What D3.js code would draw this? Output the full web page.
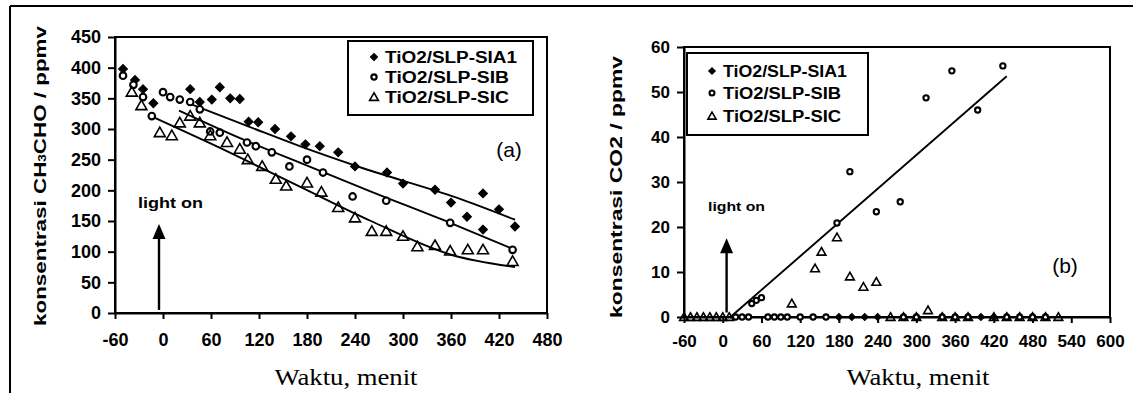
<!DOCTYPE html>
<html>
<head>
<meta charset="utf-8">
<script src="https://cdn.jsdelivr.net/npm/d3@7"></script>
<style>
  html, body { margin: 0; padding: 0; background: #fff; }
  svg { display: block; }
  .tick text { font-family: "Liberation Sans", Arial, sans-serif; font-weight: bold; fill: #000; }
</style>
</head>
<body>
<svg id="chart" width="1133" height="393"></svg>
<script>
// ---------------- DATA ----------------
const seriesNames = ["TiO2/SLP-SIA1", "TiO2/SLP-SIB", "TiO2/SLP-SIC"];

// Panel (a): CH3CHO concentration (ppmv) vs time (min)
const aSIA1 = [[-50,398],[-35,380],[-25,365],[-12,342],[34,365],[46,344],[61,348],[71,368],[84,350],[96,349],
  [107,312],[119,311],[140,300],[160,288],[178,275],[196,272],[219,262],[240,239],[280,229],[300,211],
  [340,201],[360,180],[380,157],[400,195],[400,136],[420,169],[440,141]];
const aSIB = [[-50,387],[-37,372],[-25,352],[-14,321],[0,360],[9,352],[21,348],[34,344],[46,332],[59,296],
  [71,294],[105,278],[116,272],[136,262],[158,239],[180,250],[200,229],[237,190],[279,183],[359,147],[437,103]];
const aSIC = [[-39,360],[-27,338],[-4,294],[11,289],[21,310],[34,321],[46,310],[59,289],[80,278],[96,267],
  [106,250],[124,239],[141,218],[154,207],[180,212],[198,197],[219,172],[240,155],[261,133],[279,133],
  [300,125],[318,108],[340,110],[359,101],[381,103],[400,103],[437,84]];
const aFitSIA1 = [[30,343],[109,303],[171,272],[250,236],[367,188],[440,152]];
const aFitSIB  = [[20,330],[100,283],[171,245],[260,198],[359,147],[440,103]];
const aFitSIC  = [[-10,318],[60,276],[171,206],[260,150],[360,95],[440,75]];

// Panel (b): CO2 concentration (ppmv) vs time (min)
const bSIA1 = [[180,0],[200,0],[220,0],[240,0],[400,0],[420,0]];
const bSIB = [[20,0],[30,0],[40,0],[45,3],[52,3.7],[60,4.3],[70,0],[80,0],[90,0],[100,0],[120,0],[140,0],[160,0],
  [177,20.9],[197,32.3],[238,23.4],[275,25.6],[280,0],[300,0],[315,48.7],[340,0],[355,54.7],[360,0],[380,0],
  [395,46],[434,55.8],[440,0],[460,0],[480,0],[500,0]];
const bSIC = [[-60,0],[-50,0],[-40,0],[-30,0],[-20,0],[-10,0],[0,0],[10,0],[107,3],[143,10.8],[153,14.5],
  [177,17.7],[197,9],[218,6.7],[238,7.8],[260,0],[280,0],[300,0],[318,1.5],[340,0],[360,0],[380,0],[420,0],
  [440,0],[460,0],[480,0],[500,0],[520,0]];
const bFit = [[12,0],[440,53.5]];

const aXTicks = [-60,0,60,120,180,240,300,360,420,480];
const aYTicks = [0,50,100,150,200,250,300,350,400,450];
const bXTicks = [-60,0,60,120,180,240,300,360,420,480,540,600];
const bYTicks = [0,10,20,30,40,50,60];

// ---------------- DRAW ----------------
const svg = d3.select("#chart");
const SANS = '"Liberation Sans", Arial, sans-serif';
const SERIF = '"Liberation Serif", "Times New Roman", serif';

// frame lines of the scanned figure
svg.append("line").attr("x1", 10).attr("x2", 1133).attr("y1", 6).attr("y2", 6)
  .attr("stroke", "#000").attr("stroke-width", 2);
svg.append("line").attr("x1", 10).attr("x2", 10).attr("y1", 6).attr("y2", 393)
  .attr("stroke", "#000").attr("stroke-width", 2);

function marker(g, type, x, y, scale) {
  const s = scale || 1;
  if (type === 0) {
    g.append("path").attr("d", d3.symbol().type(d3.symbolSquare).size(40 * s * s)())
      .attr("transform", `translate(${x},${y}) rotate(45)`)
      .attr("fill", "#000").attr("stroke", "#000").attr("stroke-width", 1);
  } else if (type === 1) {
    g.append("circle").attr("cx", x).attr("cy", y).attr("r", 3.3 * s)
      .attr("fill", "#fff").attr("stroke", "#000").attr("stroke-width", 2.1);
  } else {
    g.append("path").attr("d", d3.symbol().type(d3.symbolTriangle).size(52 * s * s)())
      .attr("transform", `translate(${x},${y + 0.8})`)
      .attr("fill", "none").attr("stroke", "#000").attr("stroke-width", 1.6);
  }
}

function panel(cfg) {
  const g = svg.append("g");
  const x = d3.scaleLinear().domain(cfg.xDomain).range(cfg.xRange);
  const y = d3.scaleLinear().domain(cfg.yDomain).range(cfg.yRange);

  // box (top & right)
  g.append("rect").attr("x", cfg.xRange[0]).attr("y", cfg.yRange[1])
    .attr("width", cfg.xRange[1] - cfg.xRange[0]).attr("height", cfg.yRange[0] - cfg.yRange[1])
    .attr("fill", "none").attr("stroke", "#000").attr("stroke-width", 2);

  const fmt = d => String(d);
  const xAxis = g.append("g").attr("transform", `translate(0,${cfg.yRange[0]})`)
    .call(d3.axisBottom(x).tickValues(cfg.xTicks).tickFormat(fmt).tickSize(6).tickPadding(cfg.xPad).tickSizeOuter(0));
  const yAxis = g.append("g").attr("transform", `translate(${cfg.xRange[0]},0)`)
    .call(d3.axisLeft(y).tickValues(cfg.yTicks).tickFormat(fmt).tickSize(7).tickPadding(7).tickSizeOuter(0));
  [xAxis, yAxis].forEach(a => {
    a.select(".domain").attr("stroke", "#000").attr("stroke-width", 2);
    a.selectAll(".tick line").attr("stroke", "#000").attr("stroke-width", 2);
    a.selectAll(".tick text").attr("font-size", cfg.tickFont).attr("font-family", SANS);
  });

  // fit lines
  const line = d3.line().x(d => x(d[0])).y(d => y(d[1])).curve(d3.curveMonotoneX);
  cfg.fits.forEach(f => {
    g.append("path").datum(f).attr("d", line).attr("fill", "none")
      .attr("stroke", "#000").attr("stroke-width", 1.9);
  });

  // data markers
  cfg.series.forEach((s, i) => {
    s.forEach(d => marker(g, i, x(d[0]), y(d[1]), cfg.mScale));
  });

  // light on arrow
  const ax = x(cfg.arrow.x);
  g.append("line").attr("x1", ax).attr("x2", ax)
    .attr("y1", y(cfg.arrow.y0)).attr("y2", y(cfg.arrow.y1) + 10)
    .attr("stroke", "#000").attr("stroke-width", 2.4);
  g.append("path")
    .attr("d", `M${ax},${y(cfg.arrow.y1)} L${ax - 6.5},${y(cfg.arrow.y1) + 15} L${ax + 6.5},${y(cfg.arrow.y1) + 15} Z`)
    .attr("fill", "#000");
  g.append("text").attr("x", cfg.lightText[0]).attr("y", cfg.lightText[1])
    .attr("font-family", SANS).attr("font-size", cfg.lightFont).attr("font-weight", "bold")
    .attr("textLength", cfg.lightLen).attr("lengthAdjust", "spacingAndGlyphs")
    .text("light on");

  // panel letter
  g.append("text").attr("x", cfg.letter[0]).attr("y", cfg.letter[1])
    .attr("font-family", SANS).attr("font-size", 21).attr("text-anchor", "middle").text(cfg.letter[2]);

  // legend
  const L = cfg.legend;
  g.append("rect").attr("x", L.x).attr("y", L.y).attr("width", L.w).attr("height", L.h)
    .attr("fill", "#fff").attr("stroke", "#000").attr("stroke-width", 2);
  seriesNames.forEach((n, i) => {
    const yy = L.rows[i];
    marker(g, i, L.sx, yy, L.mScale);
    g.append("text").attr("x", L.tx).attr("y", yy + 6)
      .attr("font-family", SANS).attr("font-size", L.font).attr("font-weight", "bold")
      .attr("textLength", L.tl[i]).attr("lengthAdjust", "spacingAndGlyphs").text(n);
  });

  // x label
  g.append("text").attr("x", cfg.xLabel[0]).attr("y", cfg.xLabel[1]).attr("text-anchor", "middle")
    .attr("font-family", SERIF).attr("font-size", 24)
    .attr("textLength", 143).attr("lengthAdjust", "spacingAndGlyphs").text("Waktu, menit");

  // y label
  const yl = g.append("text")
    .attr("transform", `translate(${cfg.yLabel[0]},${cfg.yLabel[1]}) rotate(-90)`)
    .attr("text-anchor", "middle").attr("font-family", SANS).attr("font-weight", "bold")
    .attr("font-size", cfg.yLabelFont)
    .attr("textLength", cfg.yLabelLen).attr("lengthAdjust", "spacingAndGlyphs");
  cfg.yLabelParts.forEach(p => {
    const t = yl.append("tspan").text(p.t);
    if (p.sub) t.attr("font-size", cfg.yLabelFont * 0.6);
  });
}

panel({
  xDomain: [-60, 480], xRange: [115, 547],
  yDomain: [0, 450], yRange: [313, 37],
  xTicks: aXTicks, yTicks: aYTicks, xPad: 14, tickFont: 18,
  series: [aSIA1, aSIB, aSIC], fits: [aFitSIA1, aFitSIB, aFitSIC], mScale: 1,
  arrow: { x: -5, y0: 5, y1: 145 },
  lightText: [138, 208], lightFont: 14, lightLen: 65,
  letter: [509, 157, "(a)"],
  legend: { x: 348, y: 41, w: 185, h: 74, rows: [57, 77, 97], sx: 374, tx: 385, font: 16,
            tl: [132, 124, 124], mScale: 0.8 },
  xLabel: [346, 385],
  yLabel: [46, 176], yLabelFont: 17, yLabelLen: 300,
  yLabelParts: [{ t: "konsentrasi CH" }, { t: "3", sub: true }, { t: "CHO / ppmv" }]
});

panel({
  xDomain: [-60, 600], xRange: [684, 1110],
  yDomain: [0, 60], yRange: [317, 47],
  xTicks: bXTicks, yTicks: bYTicks, xPad: 12, tickFont: 17,
  series: [bSIA1, bSIB, bSIC], fits: [bFit], mScale: 0.8,
  arrow: { x: 6, y0: 1, y1: 17.5 },
  lightText: [708, 211], lightFont: 13, lightLen: 57,
  letter: [1065, 273, "(b)"],
  legend: { x: 687, y: 53, w: 181, h: 82, rows: [71, 93, 116], sx: 712, tx: 723, font: 16,
            tl: [124, 118, 118], mScale: 0.75 },
  xLabel: [918, 385],
  yLabel: [622, 187], yLabelFont: 17, yLabelLen: 262,
  yLabelParts: [{ t: "konsentrasi CO2 / ppmv" }]
});
</script>
</body>
</html>
